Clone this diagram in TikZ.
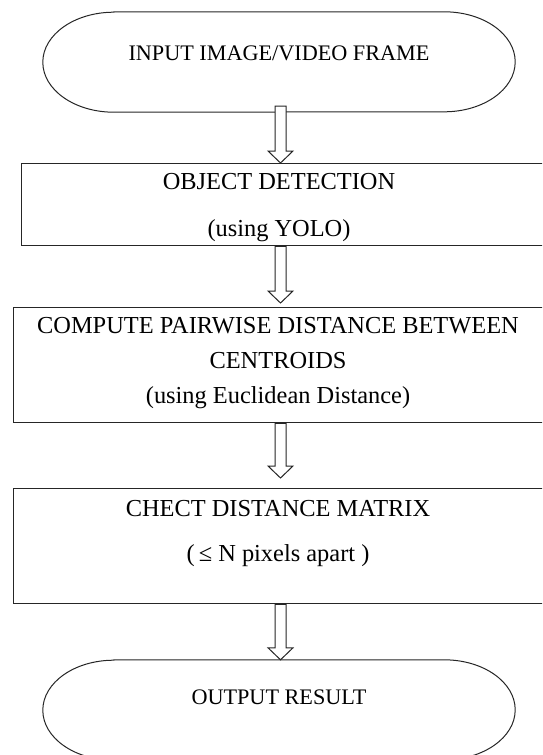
\documentclass[tikz,border=0pt]{standalone}
\usepackage{fontspec}
\setmainfont{Liberation Serif}
\usetikzlibrary{calc}

\newcommand{\boxfont}{\fontsize{24.4}{28}\selectfont}
\newcommand{\termfont}{\fontsize{22.2}{26}\selectfont}

% terminator outline round an empty node
\newcommand{\termline}[1]{%
  \draw[termline] ([xshift=71pt]#1.north west) -- ([xshift=-71pt]#1.north east)
    arc[start angle=90, end angle=-90, x radius=71pt, y radius=50pt]
    -- ([xshift=71pt]#1.south west)
    arc[start angle=270, end angle=90, x radius=71pt, y radius=50pt] -- cycle;}

% hollow block arrow from #1 down to the tip #2
\newcommand{\blockarrow}[2]{%
  \draw[blockarr] ($(#1)+(-5.5,0)$) -- ($(#2)+(-5.5,12)$) -- ($(#2)+(-12.5,12)$)
    -- (#2) -- ($(#2)+(12.5,12)$) -- ($(#2)+(5.5,12)$) -- ($(#1)+(5.5,0)$) -- cycle;}

\begin{document}
\begin{tikzpicture}[x=1pt, y=1pt,
  termbox/.style={rectangle, minimum width=472pt, minimum height=100pt, inner sep=0pt},
  termline/.style={draw=black!85, line width=1pt},
  procbox/.style={draw=black!85, line width=1.3pt, rectangle, anchor=north west,
                  inner sep=0pt, minimum width=600pt},
  boxtext/.style={anchor=base, font=\boxfont, inner sep=0pt},
  termtext/.style={anchor=base, font=\termfont, inner sep=0pt},
  blockarr/.style={draw=black!85, fill=white, line width=1pt, line join=miter},
]
\useasboundingbox (0,0) rectangle (542,-755);
\clip (0,0) rectangle (542,-755);

%%---- Input terminal ------------------------------------------------
\node[termbox] (in) at (279,-62) {};
\termline{in}
\node[termtext] (inT) at (279,-60.3) {INPUT IMAGE/VIDEO FRAME};

%%---- Object detection ----------------------------------------------
\node[procbox, minimum height=82pt] (det) at (21,-163) {};
\node[boxtext] (detA) at (279,-189) {OBJECT DETECTION};
\node[boxtext] (detB) at (279,-236) {(using YOLO)};

%%---- Pairwise distance ---------------------------------------------
\node[procbox, minimum height=115pt] (dist) at (13,-307) {};
\node[boxtext] (distA) at (278,-333) {COMPUTE PAIRWISE DISTANCE BETWEEN};
\node[boxtext] (distB) at (278,-368) {CENTROIDS};
\node[boxtext] (distC) at (278,-403) {(using Euclidean Distance)};

%%---- Distance matrix -----------------------------------------------
\node[procbox, minimum height=115pt] (chk) at (13,-488) {};
\node[boxtext] (chkA) at (278,-516) {CHECT DISTANCE MATRIX};
\node[boxtext] (chkB) at (278,-561) {(\,≤ N pixels apart )};

%%---- Output terminal -----------------------------------------------
\node[termbox] (out) at (279,-710) {};
\termline{out}
\node[termtext] (outT) at (279,-704.3) {OUTPUT RESULT};

%%---- Block arrows --------------------------------------------------
\coordinate (ax) at (280.5,0);
\coordinate (a1s) at ($(in.south -| ax)+(0,6)$);
\coordinate (a1e) at (det.north -| ax);
\coordinate (a2s) at (det.south -| ax);
\coordinate (a2e) at ($(dist.north -| ax)+(0,4)$);
\coordinate (a3s) at (dist.south -| ax);
\coordinate (a3e) at ($(chk.north -| ax)+(0,10)$);
\coordinate (a4s) at (chk.south -| ax);
\coordinate (a4e) at (out.north -| ax);

\blockarrow{a1s}{a1e}
\blockarrow{a2s}{a2e}
\blockarrow{a3s}{a3e}
\blockarrow{a4s}{a4e}

\end{tikzpicture}
\end{document}
